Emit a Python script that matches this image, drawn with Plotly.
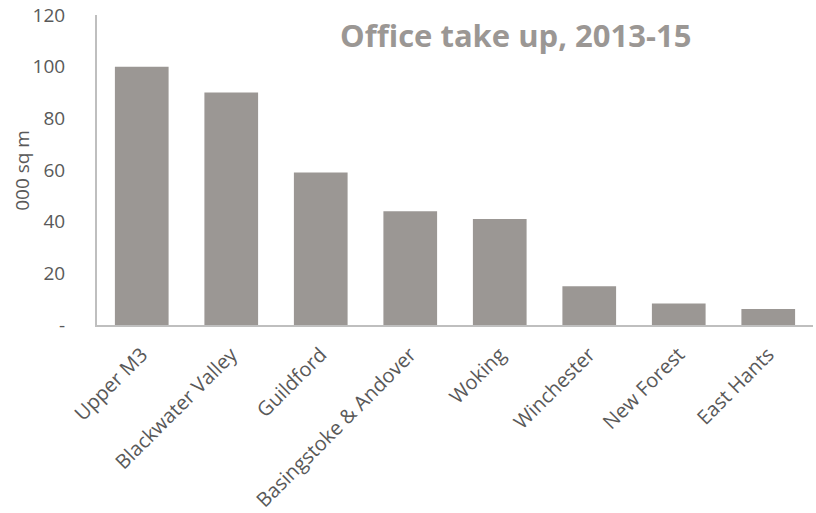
import plotly.graph_objects as go

# Office take up by area, 2013-15 (thousand sq m)
areas = ["Upper M3", "Blackwater Valley", "Guildford", "Basingstoke & Andover",
         "Woking", "Winchester", "New Forest", "East Hants"]
take_up = [100, 90, 59, 44, 41, 15, 8.3, 6.2]

y_ticks = [0, 20, 40, 60, 80, 100, 120]
y_tick_text = ["-", "20", "40", "60", "80", "100", "120"]

bar_color = "#9b9794"
text_color = "#595959"
axis_color = "#bfbfbf"
font_family = "'Open Sans', sans-serif"

fig = go.Figure(
    go.Bar(
        x=areas,
        y=take_up,
        marker=dict(color=bar_color, line=dict(width=0)),
    )
)

fig.update_layout(
    width=816,
    height=513,
    margin=dict(l=97, r=3, t=15, b=188),
    paper_bgcolor="white",
    plot_bgcolor="white",
    bargap=0.4,
    showlegend=False,
    font=dict(family=font_family, color=text_color, size=16),
)

fig.update_xaxes(
    tickangle=-45,
    showline=True,
    linecolor=axis_color,
    linewidth=2,
    showgrid=False,
    ticks="",
    automargin=False,
    ticklabelstandoff=8,
    tickfont=dict(size=20, color=text_color),
)

fig.update_yaxes(
    range=[0, 120],
    tickvals=y_ticks,
    ticktext=y_tick_text,
    showline=True,
    linecolor=axis_color,
    linewidth=2,
    showgrid=False,
    zeroline=False,
    ticks="",
    automargin=False,
    ticklabelstandoff=26,
    tickfont=dict(size=19, color=text_color),
)

fig.add_annotation(
    text="000 sq m",
    xref="paper", yref="paper",
    x=-0.105, y=0.5,
    xanchor="center", yanchor="middle",
    textangle=-90,
    showarrow=False,
    font=dict(size=19, color=text_color),
)

fig.add_annotation(
    text="<b>Office take up, 2013-15</b>",
    xref="paper", yref="paper",
    x=0.584, y=0.937,
    xanchor="center", yanchor="middle",
    showarrow=False,
    font=dict(size=31, color="#9b9794"),
)

fig.write_html("out.html")
